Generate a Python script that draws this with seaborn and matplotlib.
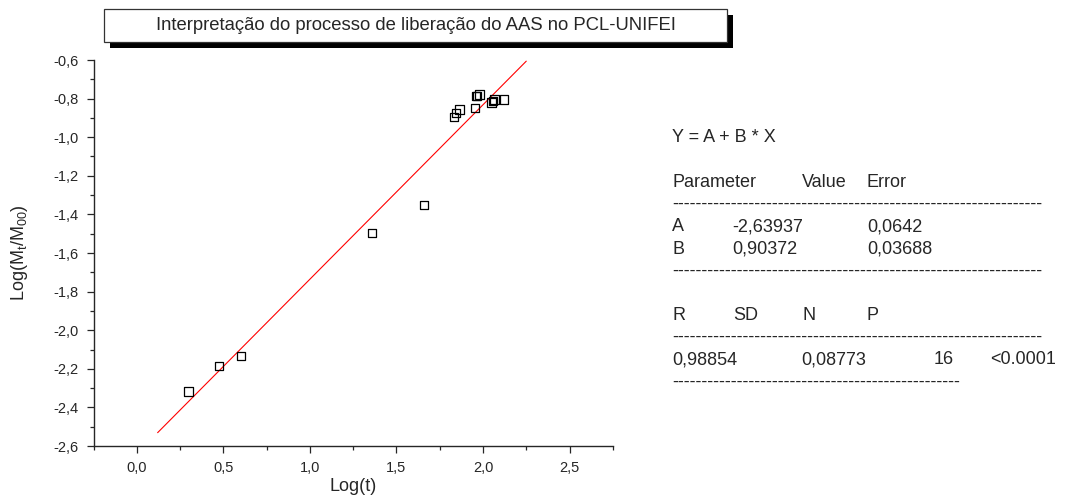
import matplotlib
matplotlib.use("Agg")
import matplotlib.pyplot as plt
import matplotlib.patches as patches
from matplotlib.ticker import MultipleLocator, FuncFormatter
import seaborn as sns
import pandas as pd

# ---- data ----
log_t = [0.299, 0.475, 0.600, 1.358, 1.658, 1.833, 1.845, 1.865,
         1.952, 1.959, 1.965, 1.979, 2.050, 2.059, 2.066, 2.123]
log_m = [-2.318, -2.184, -2.132, -1.495, -1.351, -0.897, -0.876, -0.856,
         -0.847, -0.787, -0.785, -0.778, -0.821, -0.812, -0.804, -0.804]
fit_A = -2.63937
fit_B = 0.90372
fit_x_range = [0.12, 2.25]

title = "Interpretação do processo de liberação do AAS no PCL-UNIFEI"
xlabel = "Log(t)"
ylabel = r"Log(M$_\mathrm{t}$/M$_\mathrm{00}$)"

equation = "Y = A + B * X"
param_header = ["Parameter", "Value", "Error"]
param_rows = [["A", "-2,63937", "0,0642"],
              ["B", "0,90372", "0,03688"]]
stat_header = ["R", "SD", "N", "P"]
stat_values = ["0,98854", "0,08773", "16", "<0.0001"]

# ---- style ----
sns.set_style("ticks")
plt.rcParams["font.family"] = ["Liberation Sans", "DejaVu Sans"]
plt.rcParams["mathtext.fontset"] = "custom"
plt.rcParams["mathtext.rm"] = "Liberation Sans"
plt.rcParams["mathtext.it"] = "Liberation Sans:italic"

W, H = 1065, 498
fig = plt.figure(figsize=(W / 100, H / 100), dpi=100)

def fx(px):
    return px / W

def fy(py):
    return 1 - py / H

ax_l, ax_r, ax_t, ax_b = 93.6, 612.8, 60, 446
ax = fig.add_axes([fx(ax_l), fy(ax_b), fx(ax_r) - fx(ax_l), fy(ax_t) - fy(ax_b)])

df = pd.DataFrame({"x": log_t, "y": log_m})
fit_df = pd.DataFrame({"x": fit_x_range,
                       "y": [fit_A + fit_B * v for v in fit_x_range]})

sns.lineplot(data=fit_df, x="x", y="y", ax=ax, color="#ff0000", linewidth=0.8)
sns.scatterplot(data=df, x="x", y="y", ax=ax, marker="s", s=36,
                facecolor="none", edgecolor="black", linewidth=0.9, zorder=3)

ax.set_xlim(-0.25, 2.75)
ax.set_ylim(-2.6, -0.6)
ax.xaxis.set_major_locator(MultipleLocator(0.5))
ax.xaxis.set_minor_locator(MultipleLocator(0.25))
ax.yaxis.set_major_locator(MultipleLocator(0.2))
ax.yaxis.set_minor_locator(MultipleLocator(0.1))
comma = FuncFormatter(lambda v, p: f"{v:.1f}".replace(".", ",").replace("-0,0", "0,0"))
ax.xaxis.set_major_formatter(comma)
ax.yaxis.set_major_formatter(comma)
ax.tick_params(which="major", length=5, width=0.9, labelsize=10.5, direction="out")
ax.tick_params(axis="x", which="major", pad=6)
ax.tick_params(axis="y", which="major", pad=6)
ax.tick_params(which="minor", length=3, width=0.9, direction="out")
for s in ["top", "right"]:
    ax.spines[s].set_visible(False)
for s in ["left", "bottom"]:
    ax.spines[s].set_linewidth(1.0)
ax.set_xlabel(xlabel, fontsize=13)
ax.set_ylabel(ylabel, fontsize=13)
ax.xaxis.set_label_coords(0.5, (ax_b - 486) / (ax_b - ax_t))
ax.xaxis.label.set_va("center")
ax.yaxis.set_label_coords((20 - ax_l) / (ax_r - ax_l), 0.5)
ax.yaxis.label.set_va("center")
ax.yaxis.label.set_ha("center")

# ---- title box with shadow ----
fig.patches.append(patches.Rectangle((fx(110), fy(48)), fx(733) - fx(110), fy(15) - fy(48),
                                     transform=fig.transFigure, facecolor="black",
                                     edgecolor="none", zorder=1))
fig.patches.append(patches.Rectangle((fx(104), fy(42)), fx(727) - fx(104), fy(9) - fy(42),
                                     transform=fig.transFigure, facecolor="white",
                                     edgecolor="#333333", linewidth=0.9, zorder=2))
fig.text(fx(415.5), fy(25.5), title, ha="center", va="center", fontsize=13.3, zorder=3)

# ---- fit results text ----
fs = 13
x0 = 672
base = 142.5
step = 22.2

def line_y(k):
    return fy(base + step * k)

def put(x, k, s):
    fig.text(fx(x), line_y(k), s, fontsize=fs, ha="left", va="baseline")

put(x0, 0, equation)
for x, s in zip([672, 802, 867], param_header):
    put(x, 2, s)
put(x0, 3, "-" * 63)
for k, row in zip([4, 5], param_rows):
    for x, s in zip([672, 732, 867], row):
        put(x, k, s)
put(x0, 6, "-" * 63)
for x, s in zip([672, 733, 802, 866], stat_header):
    put(x, 8, s)
put(x0, 9, "-" * 63)
for x, s in zip([672, 801, 934, 990], stat_values):
    put(x, 10, s)
put(x0, 11, "-" * 49)

fig.savefig("out.png", dpi=100)
